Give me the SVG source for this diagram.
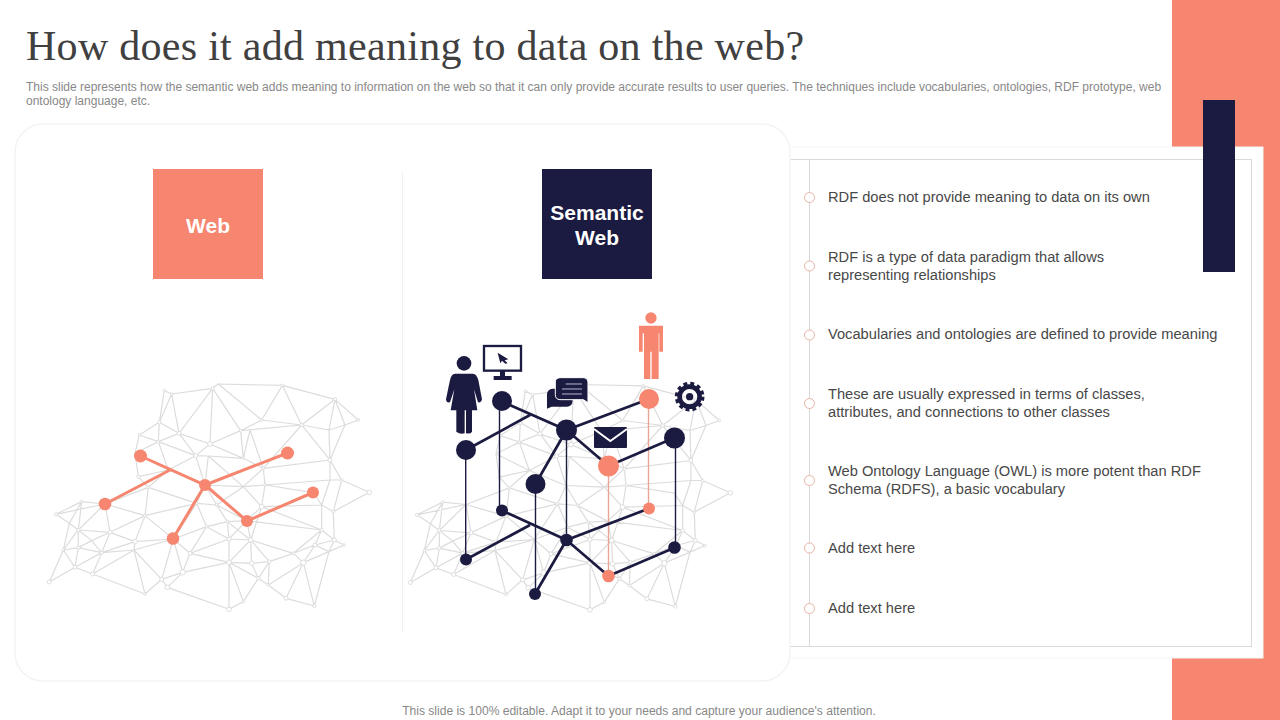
<svg xmlns="http://www.w3.org/2000/svg" width="1280" height="720" viewBox="0 0 1280 720">
<style>
text{font-family:"Liberation Sans",Arial,sans-serif}
.title{font-family:"Liberation Serif","Times New Roman",serif;font-size:42px;fill:#404040;letter-spacing:.28px}
.sub{font-size:12px;fill:#888}
.foot{font-size:12.07px;fill:#888;text-anchor:middle}
.item{font-size:14.67px;fill:#484848}
.box{font-size:21px;font-weight:bold;fill:#fff;text-anchor:middle}
.mesh{fill:none;stroke:#dcdcdc;stroke-width:3.6;stroke-linejoin:round}
.dots circle{fill:#fff;stroke:#d9d9d9;stroke-width:2.5}
.dk{stroke:#1b1a40;fill:none;stroke-width:2.7}
.dkt{stroke:#1b1a40;fill:none;stroke-width:1.4}
.or{stroke:#f6866f;fill:none;stroke-width:3}
.ort{stroke:#e8a595;fill:none;stroke-width:1.4}
.nd{fill:#1b1a40}
.no{fill:#f6866f}
.bul{fill:#fff;stroke:#e9b3a6;stroke-width:1}
</style>
<defs>
<g id="mesh">
<path class="mesh" d="M403 62L425 72L548 55L565 42L757 46L915 88L985 150L945 165L915 88L897 180L945 165L900 270L897 180L815 165L915 88M757 46L815 165L695 150L757 46M565 42L695 150L632 182L548 55L540 222L632 182L815 165M403 62L388 157L425 72L447 190L548 55M447 190L540 222L497 257L447 190L385 215L497 257L415 300L385 215L315 250L328 195L385 215L388 157L447 190M388 157L328 195M315 250L325 320L415 300L355 352L325 320M315 250L415 300M540 222L640 265L632 182M660 180L640 265L700 295L660 180M815 165L700 295L900 270L815 165M640 265L535 258L640 350L700 295M535 258L525 345L497 257L535 258M415 300L525 345L500 400L355 352M355 352L345 437L500 400L430 507L345 437L225 402L355 352M225 402L155 395L78 433L118 460L155 395L145 480L118 460L100 540L145 480L225 402L240 487L345 437M78 433L225 402M240 487L145 480L185 512L240 487L215 548L185 512L145 533L145 480M100 540L145 533L135 592L100 540L58 636L135 592L215 548L145 533M135 592L188 612L215 548L312 540L188 612L345 672L395 628L412 652L597 718L640 695L685 625L597 577L640 695M597 577L597 718M412 652L458 607L597 577L480 550L458 607L395 628L312 540L345 672M240 487L315 515L345 437M315 515L312 540L430 507L395 628L458 607L430 507L315 515L215 548M430 507L480 550L530 470L430 507M500 400L530 470L592 455L560 405L500 400M560 405L525 345L640 350L560 405L650 452L592 455L597 507L530 470M597 507L480 550M597 507L597 577L662 510L597 507L650 452L662 510L665 580L597 577M592 455L662 510M640 350L695 410L650 452M640 350L705 345L700 295M705 345L695 410M705 345L900 330L900 270M900 330L935 330L900 270M935 330L1018 367L910 425L935 330M910 425L875 405L900 330M875 405L695 410L875 480L875 405M910 425L913 510L875 480L650 452M875 480L855 525L913 510L942 525L897 545L913 510M855 525L897 545L820 578L855 525L790 550L662 510L718 575L790 550L820 578L715 645L718 575L685 625L715 645L768 685L820 578L853 708L897 545M768 685L853 708M665 580L718 575M665 580L685 625M790 550L875 480M662 510L695 410M875 405L850 368L705 345"/>
<g class="dots"><circle cx="403" cy="62" r="4"/><circle cx="425" cy="72" r="4"/><circle cx="548" cy="55" r="5"/><circle cx="757" cy="46" r="4"/><circle cx="915" cy="88" r="5"/><circle cx="985" cy="150" r="4"/><circle cx="815" cy="165" r="5"/><circle cx="695" cy="150" r="4"/><circle cx="632" cy="182" r="4"/><circle cx="540" cy="222" r="7"/><circle cx="447" cy="190" r="6"/><circle cx="388" cy="157" r="5"/><circle cx="328" cy="195" r="4"/><circle cx="385" cy="215" r="4"/><circle cx="497" cy="257" r="6"/><circle cx="900" cy="270" r="6"/><circle cx="935" cy="330" r="4"/><circle cx="1018" cy="367" r="7"/><circle cx="910" cy="425" r="4"/><circle cx="875" cy="480" r="5"/><circle cx="78" cy="433" r="5"/><circle cx="155" cy="395" r="4"/><circle cx="145" cy="480" r="5"/><circle cx="240" cy="487" r="6"/><circle cx="345" cy="437" r="4"/><circle cx="315" cy="515" r="7"/><circle cx="100" cy="540" r="4"/><circle cx="145" cy="533" r="5"/><circle cx="215" cy="548" r="5"/><circle cx="135" cy="592" r="6"/><circle cx="188" cy="612" r="6"/><circle cx="58" cy="636" r="6"/><circle cx="345" cy="672" r="4"/><circle cx="395" cy="628" r="6"/><circle cx="412" cy="652" r="7"/><circle cx="458" cy="607" r="8"/><circle cx="480" cy="550" r="6"/><circle cx="597" cy="577" r="7"/><circle cx="597" cy="718" r="7"/><circle cx="640" cy="695" r="4"/><circle cx="685" cy="625" r="5"/><circle cx="665" cy="580" r="7"/><circle cx="718" cy="575" r="5"/><circle cx="715" cy="645" r="4"/><circle cx="768" cy="685" r="6"/><circle cx="853" cy="708" r="5"/><circle cx="820" cy="578" r="8"/><circle cx="790" cy="550" r="4"/><circle cx="855" cy="525" r="6"/><circle cx="913" cy="510" r="6"/><circle cx="942" cy="525" r="4"/><circle cx="662" cy="510" r="7"/><circle cx="597" cy="507" r="6"/><circle cx="530" cy="470" r="4"/><circle cx="592" cy="455" r="4"/><circle cx="500" cy="400" r="4"/><circle cx="560" cy="405" r="4"/><circle cx="695" cy="410" r="7"/><circle cx="705" cy="345" r="4"/><circle cx="700" cy="295" r="4"/><circle cx="640" cy="265" r="4"/><circle cx="355" cy="352" r="4"/><circle cx="325" cy="320" r="5"/></g>
</g>
</defs>
<rect width="1280" height="720" fill="#fff"/>
<rect x="1172" y="0" width="108" height="720" fill="#f6866f"/>
<g id="panel-right">
<rect x="780" y="147" width="483" height="511" fill="#fff" stroke="#f5f5f5"/>
<rect x="780" y="159.500" width="471.500" height="487" fill="#fff" stroke="#d9d9d9"/>
</g>
<rect id="accent-bar" x="1203" y="100" width="32" height="172" fill="#1b1a40"/>
<text class="title" x="26" y="60">How does it add meaning to data on the web?</text>
<text class="sub"><tspan x="26" y="90.500">This slide represents how the semantic web adds meaning to information on the web so that it can only provide accurate results to user queries. The techniques include vocabularies, ontologies, RDF prototype, web</tspan><tspan x="26" y="105">ontology language, etc.</tspan></text>
<g id="panel-left">
<rect x="15" y="124" width="775" height="557" rx="28" fill="#fff" stroke="#f3f3f3" stroke-width="1.500"/>
<line x1="402.500" y1="172" x2="402.500" y2="632" stroke="#f1f1f1"/>
</g>
<g id="node-web"><rect x="153" y="169" width="110" height="110" fill="#f6866f"/><text class="box" x="208" y="233">Web</text></g>
<g id="node-semantic-web"><rect x="542" y="169" width="110" height="110" fill="#1b1a40"/><text class="box"><tspan x="597" y="220">Semantic</tspan><tspan x="597" y="245">Web</tspan></text></g>
<g id="mesh-left" transform="translate(30 370) scale(.3333)"><use href="#mesh"/></g>
<g id="mesh-right" transform="translate(391 370.500) scale(.3333)"><use href="#mesh"/></g>
<g id="connectors">
<path class="or" d="M140.500 456L205 485L287.500 453M105 504L170 470M205 485L173 538.500M205 485L247 521L313 492.500"/>
<path class="dkt" d="M465.700 450V559.500M499.500 401V510.500M535.500 484V594M566.500 430V540M675.500 438V548"/>
<path class="ort" d="M648.500 399V508.500M608.500 466V576"/>
<path class="dk" d="M466 450L530 415M502 401.500L566.500 430L649 399M566.500 430L608.500 466L675 437.500M566.500 430L535.500 484M466 559.500L530 525M502 510.500L566.500 540L649 508.500M566.500 540L608.500 576L675 547.500M566.500 540L535 594"/>
</g>
<g id="graph-left-nodes"><circle class="no" cx="140.500" cy="456" r="6.500"/><circle class="no" cx="287.500" cy="453" r="6.500"/><circle class="no" cx="105" cy="504" r="6.300"/><circle class="no" cx="205" cy="485" r="6"/><circle class="no" cx="313" cy="492.500" r="6"/><circle class="no" cx="247" cy="521" r="6"/><circle class="no" cx="173" cy="538.500" r="6.300"/></g>
<g id="graph-right-nodes">
<circle class="nd" cx="466" cy="450" r="10"/><circle class="nd" cx="502" cy="401" r="10"/><circle class="nd" cx="566.500" cy="430" r="10.500"/><circle class="no" cx="649" cy="399" r="10"/><circle class="nd" cx="674.500" cy="438" r="10.500"/><circle class="no" cx="608.500" cy="466" r="10.500"/><circle class="nd" cx="535.500" cy="484" r="10"/>
<circle class="nd" cx="466" cy="559.500" r="6"/><circle class="nd" cx="502" cy="510.500" r="6"/><circle class="nd" cx="566.500" cy="540" r="6.300"/><circle class="no" cx="649" cy="508.500" r="6"/><circle class="nd" cx="674.500" cy="547.500" r="6.300"/><circle class="no" cx="608.500" cy="576" r="6.300"/><circle class="nd" cx="535" cy="594" r="6"/>
</g>
<g id="icon-woman" transform="translate(400 300) scale(.3333)" fill="#1b1a40"><circle cx="192" cy="190" r="22"/><path d="M165 221H219Q230 222 235 240L246 298Q244 309 234 307L222 268L232 331H216V395Q212 403 198 400V331H194V400Q180 404 169 395V331H152L163 268L150 307Q138 309 138 298L150 240Q154 222 165 221Z"/></g>
<g id="icon-monitor" transform="translate(400 300) scale(.3333)"><rect x="252" y="138" width="111" height="74" fill="#fff" stroke="#1b1a40" stroke-width="7"/><path d="M300 212H315V228H335V240H281V228H300Z" fill="#1b1a40"/><path d="M293 158L325 178L314 181L323 190L316 191L306 182L301 190Z" fill="#1b1a40"/></g>
<g id="icon-chat" transform="translate(400 300) scale(.3333)"><path d="M458 266H500Q518 270 518 300Q518 320 500 320H455L441 326V282Q442 268 458 266Z" fill="#1b1a40"/><path d="M480 233H552Q564 234 564 246V308L550 299H480Q466 298 466 284V246Q466 234 480 233Z" fill="#1b1a40" stroke="#fff" stroke-width="3"/><path d="M497 252H546M486 267H546M486 282H546" stroke="#b9b8d2" stroke-width="3" fill="none"/></g>
<g id="icon-mail" transform="translate(400 300) scale(.3333)"><rect x="582" y="381" width="99" height="63" rx="3" fill="#1b1a40"/><path d="M582 387L631 423L681 387" fill="none" stroke="#fff" stroke-width="6"/></g>
<g id="icon-man" transform="translate(400 300) scale(.3333)" fill="#f6866f"><circle cx="753" cy="54" r="17"/><path d="M717 77H789V155H778V100H776V237H755V155H751V237H732V100H728V155H717Z"/></g>
<g id="icon-gear" transform="translate(400 300) scale(.3333)"><circle cx="869" cy="290" r="30" fill="none" stroke="#1b1a40" stroke-width="14"/><circle cx="869" cy="290" r="39" fill="none" stroke="#1b1a40" stroke-width="11" stroke-dasharray="11.500 9"/><circle cx="869" cy="290" r="11" fill="#1b1a40"/></g>
<g id="timeline">
<line x1="809.500" y1="160" x2="809.500" y2="647" stroke="#d9d9d9"/>
<circle class="bul" cx="809.500" cy="197.500" r="5"/><circle class="bul" cx="809.500" cy="266" r="5"/><circle class="bul" cx="809.500" cy="335" r="5"/><circle class="bul" cx="809.500" cy="403.500" r="5"/><circle class="bul" cx="809.500" cy="480.500" r="5"/><circle class="bul" cx="809.500" cy="548" r="5"/><circle class="bul" cx="809.500" cy="608.500" r="5"/>
</g>
<g id="list">
<text class="item" x="828" y="202">RDF does not provide meaning to data on its own</text>
<text class="item"><tspan x="828" y="262">RDF is a type of data paradigm that allows</tspan><tspan x="828" y="280">representing relationships</tspan></text>
<text class="item" x="828" y="339">Vocabularies and ontologies are defined to provide meaning</text>
<text class="item"><tspan x="828" y="399">These are usually expressed in terms of classes,</tspan><tspan x="828" y="417">attributes, and connections to other classes</tspan></text>
<text class="item"><tspan x="828" y="476">Web Ontology Language (OWL) is more potent than RDF</tspan><tspan x="828" y="494">Schema (RDFS), a basic vocabulary</tspan></text>
<text class="item" x="828" y="553">Add text here</text>
<text class="item" x="828" y="613">Add text here</text>
</g>
<text class="foot" x="639" y="715">This slide is 100% editable. Adapt it to your needs and capture your audience's attention.</text>
</svg>
